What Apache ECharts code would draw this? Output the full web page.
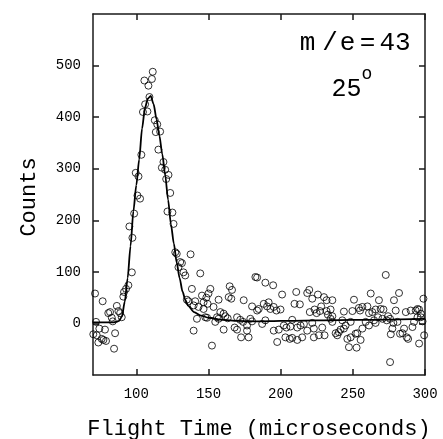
<!DOCTYPE html>
<html><head><meta charset="utf-8">
<script src="https://cdn.jsdelivr.net/npm/echarts@6/dist/echarts.min.js"></script>
<style>html,body{margin:0;padding:0;background:#fff}#c{width:443px;height:439px}</style>
</head><body><div id="c"></div>
<script>
// tick values
const xTicks = [100, 150, 200, 250, 300];
const yTicks = [0, 100, 200, 300, 400, 500];

// fitted curve
const fitX = [70, 80, 84, 86, 88, 90, 92, 94, 96, 98, 100, 102, 104, 106, 108, 110, 112, 114, 116, 118, 120, 122, 124, 126, 128, 130, 132, 134, 136, 140, 145, 150, 160, 170, 185, 200, 250, 300];
const fitY = [2, 2, 2, 3, 5, 13, 42, 88, 150, 218, 268, 318, 378, 418, 436, 441, 425, 396, 364, 328, 288, 240, 192, 155, 118, 88, 62, 45, 34, 22, 15, 11, 7, 5, 4, 5, 7, 9];

// measured points (x, counts)
const peakPoints = [[111.4,488],[110.8,474],[105.6,471],[108.4,461],[109.1,439],[106.1,425],[104.6,410],[107.7,411],[112.8,394],[114.5,386],[113.5,371],[116.5,372],[115.3,337],[103.5,327],[118.8,313],[117.7,302],[120,298],[99.6,292],[101.5,285],[122.3,288],[120.7,280],[100.8,248],[102.6,242],[123.5,253],[98.5,213],[121.6,217],[125,215],[95.2,188],[125.8,193],[97.3,166],[127,138],[128,135],[137.6,134]];
const risePoints = [[96.9,99],[94.5,74],[92.9,67],[91.5,61],[91,52],[71.4,58],[76.7,43],[86.5,34],[81.8,22],[80.6,20],[87.6,24],[88.8,20],[83,11],[89.9,12],[83.7,4],[72.1,3],[74.4,-10],[78.3,-12],[70.2,-21],[72.6,-23],[76,-30],[77.2,-32],[79,-34],[73.7,-37],[85.3,-19],[84.6,-49]];
const tailPoints = [[130.4,119],[131.6,117],[129.2,109],[132.7,99],[133.9,93],[144.3,97],[138.5,67],[151.3,67],[164.7,72],[166.3,65],[135,46],[136.2,43],[140.8,43],[139.7,35],[145.5,54],[148.5,50],[150,58],[146.6,41],[149.4,38],[157,46],[164,51],[165.8,48],[174.4,45],[143.1,32],[146.6,28],[153.5,32],[142,9],[147.8,12],[149,11],[158.2,22],[160.5,19],[161.7,14],[155.9,12],[157,9],[163.3,10],[169.8,12],[172,7],[154.7,3],[174,3],[179,9],[180.2,4],[139.7,-14],[160.5,-12],[168.1,-8],[169.8,-12],[176.7,-14],[172.6,-27],[177.8,-27],[152.4,-43],[182.5,90]];
const midPoints = [[183.7,89],[189.4,79],[194.8,74],[201,56],[210.8,61],[209.6,38],[213.3,37],[180.2,33],[184.8,28],[183.7,25],[188.3,38],[191.7,41],[190.6,33],[192.9,28],[195.2,32],[197.1,25],[199.9,27],[187.2,-1],[189.4,6],[176.7,-4],[195.2,-14],[198.7,-12],[202.2,-4],[204,-8],[206.8,-6],[208,7],[197.6,-36],[203.3,-27],[206.3,-30],[208,-28],[211.5,-32],[214.9,-27],[211.5,-8],[213.8,-4],[216.1,-1],[218.4,-14],[221.9,1],[223,-10],[228.8,-8],[230.4,-23],[226.5,-23],[223,-27],[234.6,9],[235.8,3],[218.4,59],[219.8,65],[225.8,56],[230,51],[231.8,45],[235.8,45],[221.9,48],[220.2,22],[223.5,27],[224.9,20],[227.2,24],[228.1,33],[231.8,24],[234.6,27],[232.7,17],[235.8,14]];
const farPoints = [[272.8,94],[250.8,46],[256.6,32],[260.1,33],[262.4,58],[268.1,45],[265.8,27],[263.5,22],[261.2,20],[271.2,27],[269.3,28],[243.8,23],[249.7,24],[254.2,30],[255,25],[278.5,45],[282,59],[279.7,25],[286.7,22],[290.1,25],[293.6,25],[294.8,28],[295.9,27],[298.9,48],[297.1,19],[238.1,-19],[239.2,-23],[240.3,-17],[242.7,6],[241.5,-12],[243.8,-10],[245,-4],[248.5,3],[251.9,-20],[253.1,-19],[248.5,-27],[246.2,-30],[247.3,-46],[252.6,-47],[255.4,-32],[256.6,-10],[258.9,3],[261.2,-4],[264.7,6],[265.8,1],[267.4,12],[270.5,9],[273.5,6],[274.4,14],[275.8,9],[278.1,1],[277.4,-10],[276.3,-21],[280.9,3],[282.7,-20],[284.4,-19],[287.4,-27],[288.3,-30],[285.5,-10],[291.3,-7],[292.4,3],[294.8,12],[297.1,12],[298.3,4],[299.4,-23],[295.9,-39],[275.8,-75]];

const FONT = 'Liberation Mono';
const axisColor = '#1a1a1a';
const lineStyle = {color: axisColor, width: 1.5};

function xAx(pos, labels) {
  return {
    type: 'value', min: 70, max: 300, position: pos,
    axisLine: {show: true, onZero: false, lineStyle},
    axisTick: {show: true, inside: true, length: 6, customValues: xTicks, lineStyle},
    axisLabel: {show: labels, customValues: xTicks, fontFamily: FONT, fontSize: 14, color: '#000', margin: 12},
    splitLine: {show: false}
  };
}
function yAx(pos, labels) {
  return {
    type: 'value', min: -100, max: 600, interval: 100, position: pos,
    axisLine: {show: true, onZero: false, lineStyle},
    axisTick: {show: true, inside: true, length: 6, customValues: yTicks, lineStyle},
    axisLabel: {show: labels, customValues: yTicks, fontFamily: FONT, fontSize: 14, color: '#000', margin: 12},
    splitLine: {show: false}
  };
}
const pointStyle = {color: 'rgba(0,0,0,0)', borderColor: '#000', borderWidth: 1};
function sc(data) {
  return {type: 'scatter', data, symbol: 'circle', symbolSize: 7, itemStyle: pointStyle, silent: true, z: 3};
}

const chart = echarts.init(document.getElementById('c'), null, {renderer: 'canvas'});
chart.setOption({
  animation: false,
  backgroundColor: '#fff',
  grid: {left: 93, right: 18, top: 14, bottom: 64},
  xAxis: [xAx('bottom', true), xAx('top', false)],
  yAxis: [yAx('left', true), yAx('right', false)],
  series: [
    {type: 'line', data: fitX.map((x, i) => [x, fitY[i]]), showSymbol: false, smooth: 0.25, smoothMonotone: 'x',
     lineStyle: {color: '#000', width: 1.8}, silent: true, z: 4},
    sc(peakPoints), sc(risePoints), sc(tailPoints), sc(midPoints), sc(farPoints)
  ],
  graphic: [
    {type: 'text', x: 29, y: 197, rotation: Math.PI / 2, style: {text: 'Counts', font: '22px "Liberation Mono"', fill: '#000', textAlign: 'center', textVerticalAlign: 'middle'}},
    {type: 'text', x: 259, y: 429, style: {text: 'Flight Time (microseconds)', font: '22px "Liberation Mono"', fill: '#000', textAlign: 'center', textVerticalAlign: 'middle'}},
    {type: 'text', x: 307.5, y: 43, style: {text: 'm', font: '26px "Liberation Mono"', fill: '#000', textAlign: 'center', textVerticalAlign: 'middle'}},
    {type: 'text', x: 330, y: 43, style: {text: '/', font: '26px "Liberation Mono"', fill: '#000', textAlign: 'center', textVerticalAlign: 'middle'}},
    {type: 'text', x: 347.5, y: 43, style: {text: 'e', font: '26px "Liberation Mono"', fill: '#000', textAlign: 'center', textVerticalAlign: 'middle'}},
    {type: 'text', x: 367.5, y: 43, style: {text: '=', font: '26px "Liberation Mono"', fill: '#000', textAlign: 'center', textVerticalAlign: 'middle'}},
    {type: 'text', x: 395, y: 43, style: {text: '43', font: '26px "Liberation Mono"', fill: '#000', textAlign: 'center', textVerticalAlign: 'middle'}},
    {type: 'text', x: 346.5, y: 89, style: {text: '25', font: '25px "Liberation Mono"', fill: '#000', textAlign: 'center', textVerticalAlign: 'middle'}},
    {type: 'text', x: 367, y: 74, style: {text: 'o', font: '18px "Liberation Mono"', fill: '#000', textAlign: 'center', textVerticalAlign: 'middle'}}
  ]
});
</script></body></html>
